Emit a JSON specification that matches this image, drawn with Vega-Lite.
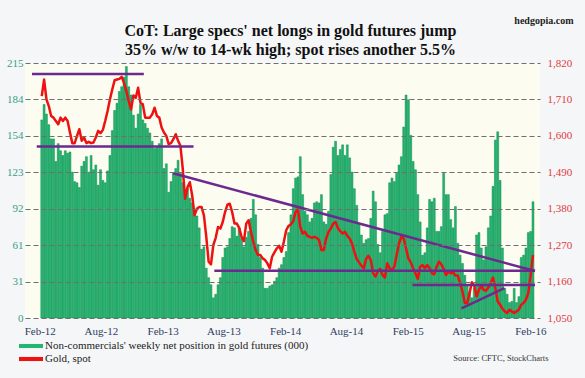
{
  "$schema": "https://vega.github.io/schema/vega-lite/v6.json",
  "width": 515,
  "height": 255,
  "autosize": {"type": "none"},
  "padding": {"left": 25, "top": 63, "right": 45, "bottom": 60},
  "background": "#f5f6f7",
  "config": {"view": {"fill": "#fdfcf1", "stroke": null}, "font": "Liberation Serif"},
  "title": {
    "text": ["CoT: Large specs' net longs in gold futures jump", "35% w/w to 14-wk high; spot rises another 5.5%"],
    "font": "Liberation Serif", "fontSize": 16, "fontWeight": "bold", "color": "#111111",
    "anchor": "middle", "dx": 8, "offset": -43, "lineHeight": 19
  },
  "datasets": {
    "w": [
      {"d":"2012-02-07","n":167,"g":1720},{"d":"2012-02-14","n":180,"g":1770},{"d":"2012-02-21","n":172,"g":1710},{"d":"2012-02-28","n":163,"g":1690},
      {"d":"2012-03-06","n":151,"g":1660},{"d":"2012-03-13","n":151,"g":1655},{"d":"2012-03-20","n":132,"g":1645},{"d":"2012-03-27","n":147,"g":1635},
      {"d":"2012-04-03","n":141,"g":1655},{"d":"2012-04-10","n":137,"g":1645},{"d":"2012-04-17","n":141,"g":1655},{"d":"2012-04-24","n":139,"g":1645},
      {"d":"2012-05-01","n":140,"g":1610},{"d":"2012-05-08","n":123,"g":1578},{"d":"2012-05-15","n":115,"g":1578},{"d":"2012-05-22","n":114,"g":1600},
      {"d":"2012-05-29","n":110,"g":1620},{"d":"2012-06-05","n":128,"g":1585},{"d":"2012-06-12","n":132,"g":1595},{"d":"2012-06-19","n":136,"g":1578},
      {"d":"2012-06-26","n":123,"g":1582},{"d":"2012-07-03","n":137,"g":1578},{"d":"2012-07-10","n":125,"g":1580},{"d":"2012-07-17","n":129,"g":1595},
      {"d":"2012-07-24","n":112,"g":1615},{"d":"2012-07-31","n":125,"g":1608},{"d":"2012-08-07","n":116,"g":1618},{"d":"2012-08-14","n":114,"g":1645},
      {"d":"2012-08-21","n":124,"g":1675},{"d":"2012-08-28","n":137,"g":1710},{"d":"2012-09-04","n":158,"g":1740},{"d":"2012-09-11","n":175,"g":1768},
      {"d":"2012-09-18","n":181,"g":1770},{"d":"2012-09-25","n":191,"g":1772},{"d":"2012-10-02","n":195,"g":1778},{"d":"2012-10-09","n":203,"g":1760},
      {"d":"2012-10-16","n":212,"g":1735},{"d":"2012-10-23","n":195,"g":1705},{"d":"2012-10-30","n":188,"g":1680},{"d":"2012-11-06","n":171,"g":1722},
      {"d":"2012-11-13","n":160,"g":1715},{"d":"2012-11-20","n":172,"g":1745},{"d":"2012-11-27","n":180,"g":1700},{"d":"2012-12-04","n":167,"g":1695},
      {"d":"2012-12-11","n":164,"g":1655},{"d":"2012-12-18","n":160,"g":1655},{"d":"2012-12-25","n":156,"g":1655},{"d":"2013-01-01","n":149,"g":1665},
      {"d":"2013-01-08","n":143,"g":1685},{"d":"2013-01-15","n":144,"g":1660},{"d":"2013-01-22","n":147,"g":1655},{"d":"2013-01-29","n":151,"g":1625},
      {"d":"2013-02-05","n":126,"g":1610},{"d":"2013-02-12","n":130,"g":1600},{"d":"2013-02-19","n":106,"g":1575},{"d":"2013-02-26","n":115,"g":1578},
      {"d":"2013-03-05","n":122,"g":1590},{"d":"2013-03-12","n":126,"g":1605},{"d":"2013-03-19","n":133,"g":1585},{"d":"2013-03-26","n":122,"g":1570},
      {"d":"2013-04-02","n":114,"g":1500},{"d":"2013-04-09","n":104,"g":1410},{"d":"2013-04-16","n":109,"g":1445},{"d":"2013-04-23","n":101,"g":1460},
      {"d":"2013-04-30","n":97,"g":1420},{"d":"2013-05-07","n":90,"g":1360},{"d":"2013-05-14","n":86,"g":1380},{"d":"2013-05-21","n":76,"g":1385},
      {"d":"2013-05-28","n":58,"g":1385},{"d":"2013-06-04","n":60,"g":1360},{"d":"2013-06-11","n":42,"g":1295},{"d":"2013-06-18","n":34,"g":1220},
      {"d":"2013-06-25","n":28,"g":1212},{"d":"2013-07-02","n":17,"g":1270},{"d":"2013-07-09","n":20,"g":1292},{"d":"2013-07-16","n":28,"g":1325},
      {"d":"2013-07-23","n":34,"g":1320},{"d":"2013-07-30","n":51,"g":1340},{"d":"2013-08-06","n":59,"g":1370},{"d":"2013-08-13","n":60,"g":1392},
      {"d":"2013-08-20","n":67,"g":1395},{"d":"2013-08-27","n":77,"g":1370},{"d":"2013-09-03","n":76,"g":1335},{"d":"2013-09-10","n":69,"g":1335},
      {"d":"2013-09-17","n":76,"g":1322},{"d":"2013-09-24","n":67,"g":1295},{"d":"2013-10-01","n":60,"g":1282},{"d":"2013-10-08","n":68,"g":1335},
      {"d":"2013-10-15","n":73,"g":1345},{"d":"2013-10-22","n":84,"g":1310},{"d":"2013-10-29","n":100,"g":1280},{"d":"2013-11-05","n":87,"g":1255},
      {"d":"2013-11-12","n":62,"g":1240},{"d":"2013-11-19","n":51,"g":1240},{"d":"2013-11-26","n":42,"g":1230},{"d":"2013-12-03","n":25,"g":1225},
      {"d":"2013-12-10","n":25,"g":1215},{"d":"2013-12-17","n":27,"g":1200},{"d":"2013-12-24","n":28,"g":1235},{"d":"2013-12-31","n":31,"g":1248},
      {"d":"2014-01-07","n":34,"g":1260},{"d":"2014-01-14","n":42,"g":1268},{"d":"2014-01-21","n":45,"g":1250},{"d":"2014-01-28","n":51,"g":1280},
      {"d":"2014-02-04","n":56,"g":1315},{"d":"2014-02-11","n":72,"g":1328},{"d":"2014-02-18","n":87,"g":1333},{"d":"2014-02-25","n":109,"g":1342},
      {"d":"2014-03-04","n":118,"g":1370},{"d":"2014-03-11","n":119,"g":1378},{"d":"2014-03-18","n":136,"g":1325},{"d":"2014-03-25","n":104,"g":1305},
      {"d":"2014-04-01","n":90,"g":1310},{"d":"2014-04-08","n":87,"g":1298},{"d":"2014-04-15","n":81,"g":1295},{"d":"2014-04-22","n":84,"g":1292},
      {"d":"2014-04-29","n":97,"g":1295},{"d":"2014-05-06","n":98,"g":1292},{"d":"2014-05-13","n":97,"g":1285},{"d":"2014-05-20","n":104,"g":1255},
      {"d":"2014-05-27","n":81,"g":1255},{"d":"2014-06-03","n":79,"g":1290},{"d":"2014-06-10","n":90,"g":1310},{"d":"2014-06-17","n":121,"g":1320},
      {"d":"2014-06-24","n":144,"g":1335},{"d":"2014-07-01","n":149,"g":1340},{"d":"2014-07-08","n":137,"g":1322},{"d":"2014-07-15","n":142,"g":1312},
      {"d":"2014-07-22","n":146,"g":1305},{"d":"2014-07-29","n":137,"g":1310},{"d":"2014-08-05","n":146,"g":1298},{"d":"2014-08-12","n":135,"g":1290},
      {"d":"2014-08-19","n":123,"g":1275},{"d":"2014-08-26","n":109,"g":1250},{"d":"2014-09-02","n":95,"g":1228},{"d":"2014-09-09","n":79,"g":1218},
      {"d":"2014-09-16","n":70,"g":1208},{"d":"2014-09-23","n":63,"g":1200},{"d":"2014-09-30","n":66,"g":1228},{"d":"2014-10-07","n":67,"g":1238},
      {"d":"2014-10-14","n":84,"g":1225},{"d":"2014-10-21","n":107,"g":1185},{"d":"2014-10-28","n":98,"g":1175},{"d":"2014-11-04","n":62,"g":1192},
      {"d":"2014-11-11","n":55,"g":1198},{"d":"2014-11-18","n":73,"g":1180},{"d":"2014-11-25","n":87,"g":1172},{"d":"2014-12-02","n":88,"g":1215},
      {"d":"2014-12-09","n":114,"g":1200},{"d":"2014-12-16","n":118,"g":1195},{"d":"2014-12-23","n":115,"g":1205},{"d":"2014-12-30","n":122,"g":1240},
      {"d":"2015-01-06","n":129,"g":1275},{"d":"2015-01-13","n":136,"g":1295},{"d":"2015-01-20","n":161,"g":1290},{"d":"2015-01-27","n":188,"g":1260},
      {"d":"2015-02-03","n":184,"g":1230},{"d":"2015-02-10","n":154,"g":1218},{"d":"2015-02-17","n":132,"g":1200},{"d":"2015-02-24","n":125,"g":1185},
      {"d":"2015-03-03","n":104,"g":1168},{"d":"2015-03-10","n":81,"g":1205},{"d":"2015-03-17","n":53,"g":1210},{"d":"2015-03-24","n":55,"g":1200},
      {"d":"2015-03-31","n":76,"g":1210},{"d":"2015-04-07","n":100,"g":1200},{"d":"2015-04-14","n":98,"g":1185},{"d":"2015-04-21","n":101,"g":1182},
      {"d":"2015-04-28","n":73,"g":1205},{"d":"2015-05-05","n":73,"g":1220},{"d":"2015-05-12","n":77,"g":1212},{"d":"2015-05-19","n":122,"g":1198},
      {"d":"2015-05-26","n":104,"g":1180},{"d":"2015-06-02","n":104,"g":1190},{"d":"2015-06-09","n":83,"g":1185},{"d":"2015-06-16","n":76,"g":1188},
      {"d":"2015-06-23","n":94,"g":1178},{"d":"2015-06-30","n":63,"g":1178},{"d":"2015-07-07","n":53,"g":1155},{"d":"2015-07-14","n":46,"g":1130},
      {"d":"2015-07-21","n":36,"g":1095},{"d":"2015-07-28","n":28,"g":1095},{"d":"2015-08-04","n":22,"g":1125},{"d":"2015-08-11","n":17,"g":1158},
      {"d":"2015-08-18","n":25,"g":1148},{"d":"2015-08-25","n":70,"g":1115},{"d":"2015-09-01","n":72,"g":1135},{"d":"2015-09-08","n":59,"g":1148},
      {"d":"2015-09-15","n":49,"g":1135},{"d":"2015-09-22","n":60,"g":1132},{"d":"2015-09-29","n":76,"g":1142},{"d":"2015-10-06","n":86,"g":1155},
      {"d":"2015-10-13","n":111,"g":1172},{"d":"2015-10-20","n":150,"g":1140},{"d":"2015-10-27","n":157,"g":1100},{"d":"2015-11-03","n":116,"g":1090},
      {"d":"2015-11-10","n":59,"g":1078},{"d":"2015-11-17","n":25,"g":1070},{"d":"2015-11-24","n":20,"g":1065},{"d":"2015-12-01","n":13,"g":1075},
      {"d":"2015-12-08","n":14,"g":1070},{"d":"2015-12-15","n":25,"g":1065},{"d":"2015-12-22","n":13,"g":1070},{"d":"2015-12-29","n":18,"g":1075},
      {"d":"2016-01-05","n":51,"g":1090},{"d":"2016-01-12","n":53,"g":1095},{"d":"2016-01-19","n":59,"g":1105},{"d":"2016-01-26","n":72,"g":1125},
      {"d":"2016-02-02","n":73,"g":1180},{"d":"2016-02-09","n":98,"g":1240}
    ],
    "trend": [
      {"d1":"2012-01-09","p1":1787,"d2":"2012-12-07","p2":1787},
      {"d1":"2012-01-23","p1":1568,"d2":"2013-05-04","p2":1568},
      {"d1":"2013-03-04","p1":1487,"d2":"2016-02-15","p2":1192},
      {"d1":"2013-07-05","p1":1193,"d2":"2016-02-15","p2":1193},
      {"d1":"2015-02-15","p1":1150,"d2":"2016-02-15","p2":1150},
      {"d1":"2015-07-11","p1":1079,"d2":"2015-11-16","p2":1140}
    ]
  },
  "layer": [
    {
      "data": {"name": "w"},
      "mark": {"type": "bar", "size": 1.9, "stroke": "#0d8c4a", "strokeWidth": 0.5},
      "encoding": {
        "x": {
          "field": "d", "type": "temporal",
          "scale": {"type": "utc", "domain": [{"year": 2012, "month": 1, "date": 3, "utc": true}, {"year": 2016, "month": 2, "date": 15, "utc": true}]},
          "axis": {
            "values": [
              {"year": 2012, "month": 2, "date": 1, "utc": true}, {"year": 2012, "month": 8, "date": 1, "utc": true},
              {"year": 2013, "month": 2, "date": 1, "utc": true}, {"year": 2013, "month": 8, "date": 1, "utc": true},
              {"year": 2014, "month": 2, "date": 1, "utc": true}, {"year": 2014, "month": 8, "date": 1, "utc": true},
              {"year": 2015, "month": 2, "date": 1, "utc": true}, {"year": 2015, "month": 8, "date": 1, "utc": true},
              {"year": 2016, "month": 2, "date": 1, "utc": true}
            ],
            "format": "%b-%y",
            "title": "Source: CFTC, StockCharts",
            "titleX": 523, "titleY": 42, "titleAlign": "right", "titleBaseline": "alphabetic",
            "titleFont": "Liberation Serif", "titleFontSize": 8.5, "titleFontWeight": "normal", "titleColor": "#333333",
            "domain": false, "ticks": false, "grid": false,
            "labelColor": "#2f3d62", "labelFont": "Liberation Serif", "labelFontSize": 11, "labelPadding": 7
          }
        },
        "y": {
          "field": "n", "type": "quantitative",
          "scale": {"domain": [0, 215], "nice": false, "zero": true},
          "axis": {
            "orient": "left", "zindex": 1,
            "values": [0, 30.714, 61.429, 92.143, 122.857, 153.571, 184.286, 215],
            "format": ".0f", "title": null, "domain": false, "ticks": false,
            "labelColor": "#3a9e80", "labelFont": "Liberation Serif", "labelFontSize": 11, "labelPadding": 2,
            "grid": true, "gridColor": "#6f6f6f", "gridDash": [5, 3], "gridWidth": 1
          }
        },
        "color": {
          "datum": "Non-commercials' weekly net position in gold futures (000)", "type": "nominal",
          "scale": {"domain": ["Non-commercials' weekly net position in gold futures (000)", "Gold, spot"], "range": ["#22b573", "#ee1111"]},
          "legend": {
            "orient": "none", "legendX": 0, "legendY": 277, "title": null,
            "symbolType": "M-2,-0.34H2V0.34H-2Z", "symbolSize": 144, "symbolStrokeWidth": 0,
            "labelFont": "Liberation Serif", "labelFontSize": 11, "labelColor": "#222222", "labelLimit": 0,
            "labelOffset": 8, "rowPadding": 2, "padding": 0
          }
        }
      }
    },
    {
      "data": {"name": "w"},
      "mark": {"type": "line", "strokeWidth": 2.5, "strokeJoin": "round"},
      "encoding": {
        "x": {"field": "d", "type": "temporal"},
        "y": {
          "field": "g", "type": "quantitative",
          "scale": {"domain": [1050, 1820], "nice": false, "zero": false},
          "axis": {
            "orient": "right",
            "values": [1050, 1160, 1270, 1380, 1490, 1600, 1710, 1820],
            "format": ",d", "domain": false, "ticks": false, "grid": false,
            "labelColor": "#e03a3e", "labelFont": "Liberation Serif", "labelFontSize": 11, "labelPadding": 7,
            "title": "hedgopia.com", "titleAngle": 0, "titleX": 33, "titleY": -40,
            "titleAlign": "right", "titleBaseline": "alphabetic",
            "titleFont": "Liberation Serif", "titleFontSize": 10, "titleFontWeight": "bold", "titleColor": "#222222"
          }
        },
        "color": {"datum": "Gold, spot", "type": "nominal"}
      }
    },
    {
      "data": {"name": "trend"},
      "mark": {"type": "rule", "color": "#6c2a8e", "strokeWidth": 2.5, "strokeCap": "butt"},
      "encoding": {
        "x": {"field": "d1", "type": "temporal"},
        "x2": {"field": "d2"},
        "y": {"field": "p1", "type": "quantitative", "scale": {"domain": [1050, 1820], "nice": false, "zero": false}, "axis": null},
        "y2": {"field": "p2"}
      }
    }
  ],
  "resolve": {"scale": {"y": "independent"}}
}
